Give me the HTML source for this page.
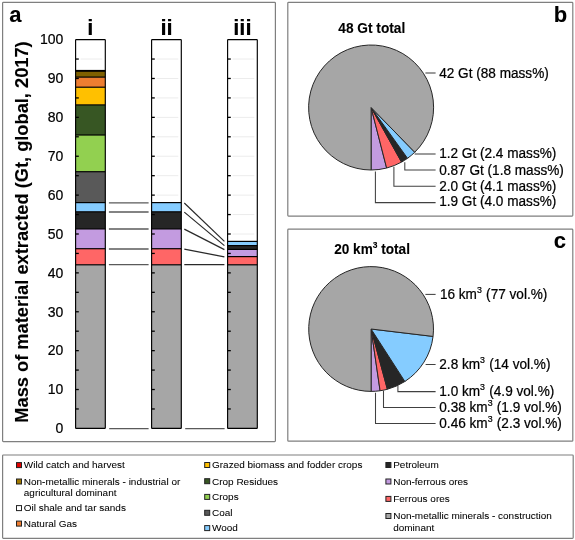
<!DOCTYPE html>
<html><head><meta charset="utf-8"><style>
html,body{margin:0;padding:0;background:#fff;}
svg{display:block;filter:blur(0.35px);font-family:"Liberation Sans",sans-serif;}
text{stroke:#000;stroke-width:0.22px;}
text[font-weight=bold]{stroke-width:0.1px;}
</style></head><body>
<svg width="575" height="540" viewBox="0 0 575 540" font-family="Liberation Sans, sans-serif" fill="#000">
<rect width="575" height="540" fill="#fff"/>
<rect x="2.6" y="2.4" width="272.79999999999995" height="439.20000000000005" rx="0.8" fill="none" stroke="#7f7f7f" stroke-width="1.2"/>
<rect x="287.8" y="2.4" width="284.99999999999994" height="213.7" rx="0.8" fill="none" stroke="#7f7f7f" stroke-width="1.2"/>
<rect x="287.8" y="229.1" width="284.99999999999994" height="212.1" rx="0.8" fill="none" stroke="#7f7f7f" stroke-width="1.2"/>
<rect x="2.6" y="455.0" width="570.6" height="83.29999999999995" rx="0.8" fill="none" stroke="#7f7f7f" stroke-width="1.2"/>
<text x="9.2" y="21.8" font-weight="bold" font-size="22">a</text>
<text transform="translate(28,232.0) rotate(-90)" text-anchor="middle" font-weight="bold" font-size="18.25">Mass of material extracted (Gt, global, 2017)</text>
<text transform="translate(63.4,433.15) scale(1,1.05)" text-anchor="end" font-size="14">0</text>
<text transform="translate(63.4,394.27) scale(1,1.05)" text-anchor="end" font-size="14">10</text>
<text transform="translate(63.4,355.39) scale(1,1.05)" text-anchor="end" font-size="14">20</text>
<text transform="translate(63.4,316.51) scale(1,1.05)" text-anchor="end" font-size="14">30</text>
<text transform="translate(63.4,277.63) scale(1,1.05)" text-anchor="end" font-size="14">40</text>
<text transform="translate(63.4,238.75) scale(1,1.05)" text-anchor="end" font-size="14">50</text>
<text transform="translate(63.4,199.87) scale(1,1.05)" text-anchor="end" font-size="14">60</text>
<text transform="translate(63.4,160.99) scale(1,1.05)" text-anchor="end" font-size="14">70</text>
<text transform="translate(63.4,122.11) scale(1,1.05)" text-anchor="end" font-size="14">80</text>
<text transform="translate(63.4,83.23) scale(1,1.05)" text-anchor="end" font-size="14">90</text>
<text transform="translate(63.4,44.35) scale(1,1.05)" text-anchor="end" font-size="14">100</text>
<text x="90.4" y="34.9" text-anchor="middle" font-weight="bold" font-size="22">i</text>
<text x="166.5" y="34.9" text-anchor="middle" font-weight="bold" font-size="22">ii</text>
<text x="242.4" y="34.9" text-anchor="middle" font-weight="bold" font-size="22">iii</text>
<rect x="75.6" y="264.80" width="29.7" height="163.50" fill="#a6a6a6"/>
<rect x="75.6" y="248.70" width="29.7" height="16.10" fill="#ff6666"/>
<rect x="75.6" y="228.90" width="29.7" height="19.80" fill="#c39be0"/>
<rect x="75.6" y="211.80" width="29.7" height="17.10" fill="#262626"/>
<rect x="75.6" y="202.60" width="29.7" height="9.20" fill="#85ccff"/>
<rect x="75.6" y="171.70" width="29.7" height="30.90" fill="#595959"/>
<rect x="75.6" y="135.00" width="29.7" height="36.70" fill="#92d050"/>
<rect x="75.6" y="104.90" width="29.7" height="30.10" fill="#375623"/>
<rect x="75.6" y="87.20" width="29.7" height="17.70" fill="#ffc000"/>
<rect x="75.6" y="77.10" width="29.7" height="10.10" fill="#ed7d31"/>
<rect x="75.6" y="70.80" width="29.7" height="6.30" fill="#7f6000"/>
<rect x="75.6" y="39.60" width="29.7" height="31.20" fill="#ffffff"/>
<line x1="80.6" x2="102.3" y1="59.04" y2="59.04" stroke="#ececec" stroke-width="1"/>
<line x1="75.6" x2="78.8" y1="408.96" y2="408.96" stroke="#000" stroke-width="1.3"/>
<line x1="75.6" x2="78.8" y1="389.52" y2="389.52" stroke="#000" stroke-width="1.3"/>
<line x1="75.6" x2="78.8" y1="370.08" y2="370.08" stroke="#000" stroke-width="1.3"/>
<line x1="75.6" x2="78.8" y1="350.64" y2="350.64" stroke="#000" stroke-width="1.3"/>
<line x1="75.6" x2="78.8" y1="331.20" y2="331.20" stroke="#000" stroke-width="1.3"/>
<line x1="75.6" x2="78.8" y1="311.76" y2="311.76" stroke="#000" stroke-width="1.3"/>
<line x1="75.6" x2="78.8" y1="292.32" y2="292.32" stroke="#000" stroke-width="1.3"/>
<line x1="75.6" x2="78.8" y1="272.88" y2="272.88" stroke="#000" stroke-width="1.3"/>
<line x1="75.6" x2="78.8" y1="253.44" y2="253.44" stroke="#000" stroke-width="1.3"/>
<line x1="75.6" x2="78.8" y1="234.00" y2="234.00" stroke="#000" stroke-width="1.3"/>
<line x1="75.6" x2="78.8" y1="214.56" y2="214.56" stroke="#000" stroke-width="1.3"/>
<line x1="75.6" x2="78.8" y1="195.12" y2="195.12" stroke="#000" stroke-width="1.3"/>
<line x1="75.6" x2="78.8" y1="175.68" y2="175.68" stroke="#000" stroke-width="1.3"/>
<line x1="75.6" x2="78.8" y1="156.24" y2="156.24" stroke="#000" stroke-width="1.3"/>
<line x1="75.6" x2="78.8" y1="136.80" y2="136.80" stroke="#000" stroke-width="1.3"/>
<line x1="75.6" x2="78.8" y1="117.36" y2="117.36" stroke="#000" stroke-width="1.3"/>
<line x1="75.6" x2="78.8" y1="97.92" y2="97.92" stroke="#000" stroke-width="1.3"/>
<line x1="75.6" x2="78.8" y1="78.48" y2="78.48" stroke="#000" stroke-width="1.3"/>
<line x1="75.6" x2="78.8" y1="59.04" y2="59.04" stroke="#000" stroke-width="1.3"/>
<line x1="75.6" x2="105.3" y1="264.80" y2="264.80" stroke="#000" stroke-width="1.2"/>
<line x1="75.6" x2="105.3" y1="248.70" y2="248.70" stroke="#000" stroke-width="1.2"/>
<line x1="75.6" x2="105.3" y1="228.90" y2="228.90" stroke="#000" stroke-width="1.2"/>
<line x1="75.6" x2="105.3" y1="211.80" y2="211.80" stroke="#000" stroke-width="1.2"/>
<line x1="75.6" x2="105.3" y1="202.60" y2="202.60" stroke="#000" stroke-width="1.2"/>
<line x1="75.6" x2="105.3" y1="171.70" y2="171.70" stroke="#000" stroke-width="1.2"/>
<line x1="75.6" x2="105.3" y1="135.00" y2="135.00" stroke="#000" stroke-width="1.2"/>
<line x1="75.6" x2="105.3" y1="104.90" y2="104.90" stroke="#000" stroke-width="1.2"/>
<line x1="75.6" x2="105.3" y1="87.20" y2="87.20" stroke="#000" stroke-width="1.2"/>
<line x1="75.6" x2="105.3" y1="77.10" y2="77.10" stroke="#000" stroke-width="1.2"/>
<line x1="75.6" x2="105.3" y1="70.80" y2="70.80" stroke="#000" stroke-width="1.2"/>
<rect x="75.6" y="39.6" width="29.7" height="388.7" fill="none" stroke="#000" stroke-width="1.15" rx="0.6"/>
<line x1="75.6" x2="105.3" y1="70.8" y2="70.8" stroke="#000" stroke-width="1.8"/>
<rect x="151.6" y="264.80" width="29.7" height="163.50" fill="#a6a6a6"/>
<rect x="151.6" y="248.70" width="29.7" height="16.10" fill="#ff6666"/>
<rect x="151.6" y="228.90" width="29.7" height="19.80" fill="#c39be0"/>
<rect x="151.6" y="211.80" width="29.7" height="17.10" fill="#262626"/>
<rect x="151.6" y="202.60" width="29.7" height="9.20" fill="#85ccff"/>
<rect x="151.6" y="39.60" width="29.7" height="163.00" fill="#ffffff"/>
<line x1="156.6" x2="178.29999999999998" y1="195.12" y2="195.12" stroke="#ececec" stroke-width="1"/>
<line x1="156.6" x2="178.29999999999998" y1="175.68" y2="175.68" stroke="#ececec" stroke-width="1"/>
<line x1="156.6" x2="178.29999999999998" y1="156.24" y2="156.24" stroke="#ececec" stroke-width="1"/>
<line x1="156.6" x2="178.29999999999998" y1="136.80" y2="136.80" stroke="#ececec" stroke-width="1"/>
<line x1="156.6" x2="178.29999999999998" y1="117.36" y2="117.36" stroke="#ececec" stroke-width="1"/>
<line x1="156.6" x2="178.29999999999998" y1="97.92" y2="97.92" stroke="#ececec" stroke-width="1"/>
<line x1="156.6" x2="178.29999999999998" y1="78.48" y2="78.48" stroke="#ececec" stroke-width="1"/>
<line x1="156.6" x2="178.29999999999998" y1="59.04" y2="59.04" stroke="#ececec" stroke-width="1"/>
<line x1="151.6" x2="154.79999999999998" y1="408.96" y2="408.96" stroke="#000" stroke-width="1.3"/>
<line x1="151.6" x2="154.79999999999998" y1="389.52" y2="389.52" stroke="#000" stroke-width="1.3"/>
<line x1="151.6" x2="154.79999999999998" y1="370.08" y2="370.08" stroke="#000" stroke-width="1.3"/>
<line x1="151.6" x2="154.79999999999998" y1="350.64" y2="350.64" stroke="#000" stroke-width="1.3"/>
<line x1="151.6" x2="154.79999999999998" y1="331.20" y2="331.20" stroke="#000" stroke-width="1.3"/>
<line x1="151.6" x2="154.79999999999998" y1="311.76" y2="311.76" stroke="#000" stroke-width="1.3"/>
<line x1="151.6" x2="154.79999999999998" y1="292.32" y2="292.32" stroke="#000" stroke-width="1.3"/>
<line x1="151.6" x2="154.79999999999998" y1="272.88" y2="272.88" stroke="#000" stroke-width="1.3"/>
<line x1="151.6" x2="154.79999999999998" y1="253.44" y2="253.44" stroke="#000" stroke-width="1.3"/>
<line x1="151.6" x2="154.79999999999998" y1="234.00" y2="234.00" stroke="#000" stroke-width="1.3"/>
<line x1="151.6" x2="154.79999999999998" y1="214.56" y2="214.56" stroke="#000" stroke-width="1.3"/>
<line x1="151.6" x2="154.79999999999998" y1="195.12" y2="195.12" stroke="#000" stroke-width="1.3"/>
<line x1="151.6" x2="154.79999999999998" y1="175.68" y2="175.68" stroke="#000" stroke-width="1.3"/>
<line x1="151.6" x2="154.79999999999998" y1="156.24" y2="156.24" stroke="#000" stroke-width="1.3"/>
<line x1="151.6" x2="154.79999999999998" y1="136.80" y2="136.80" stroke="#000" stroke-width="1.3"/>
<line x1="151.6" x2="154.79999999999998" y1="117.36" y2="117.36" stroke="#000" stroke-width="1.3"/>
<line x1="151.6" x2="154.79999999999998" y1="97.92" y2="97.92" stroke="#000" stroke-width="1.3"/>
<line x1="151.6" x2="154.79999999999998" y1="78.48" y2="78.48" stroke="#000" stroke-width="1.3"/>
<line x1="151.6" x2="154.79999999999998" y1="59.04" y2="59.04" stroke="#000" stroke-width="1.3"/>
<line x1="151.6" x2="181.29999999999998" y1="264.80" y2="264.80" stroke="#000" stroke-width="1.2"/>
<line x1="151.6" x2="181.29999999999998" y1="248.70" y2="248.70" stroke="#000" stroke-width="1.2"/>
<line x1="151.6" x2="181.29999999999998" y1="228.90" y2="228.90" stroke="#000" stroke-width="1.2"/>
<line x1="151.6" x2="181.29999999999998" y1="211.80" y2="211.80" stroke="#000" stroke-width="1.2"/>
<line x1="151.6" x2="181.29999999999998" y1="202.60" y2="202.60" stroke="#000" stroke-width="1.2"/>
<rect x="151.6" y="39.6" width="29.7" height="388.7" fill="none" stroke="#000" stroke-width="1.15" rx="0.6"/>
<rect x="227.6" y="264.80" width="29.7" height="163.50" fill="#a6a6a6"/>
<rect x="227.6" y="256.60" width="29.7" height="8.20" fill="#ff6666"/>
<rect x="227.6" y="249.40" width="29.7" height="7.20" fill="#c39be0"/>
<rect x="227.6" y="245.60" width="29.7" height="3.80" fill="#262626"/>
<rect x="227.6" y="241.40" width="29.7" height="4.20" fill="#85ccff"/>
<rect x="227.6" y="39.60" width="29.7" height="201.80" fill="#ffffff"/>
<line x1="232.6" x2="254.3" y1="234.00" y2="234.00" stroke="#ececec" stroke-width="1"/>
<line x1="232.6" x2="254.3" y1="214.56" y2="214.56" stroke="#ececec" stroke-width="1"/>
<line x1="232.6" x2="254.3" y1="195.12" y2="195.12" stroke="#ececec" stroke-width="1"/>
<line x1="232.6" x2="254.3" y1="175.68" y2="175.68" stroke="#ececec" stroke-width="1"/>
<line x1="232.6" x2="254.3" y1="156.24" y2="156.24" stroke="#ececec" stroke-width="1"/>
<line x1="232.6" x2="254.3" y1="136.80" y2="136.80" stroke="#ececec" stroke-width="1"/>
<line x1="232.6" x2="254.3" y1="117.36" y2="117.36" stroke="#ececec" stroke-width="1"/>
<line x1="232.6" x2="254.3" y1="97.92" y2="97.92" stroke="#ececec" stroke-width="1"/>
<line x1="232.6" x2="254.3" y1="78.48" y2="78.48" stroke="#ececec" stroke-width="1"/>
<line x1="232.6" x2="254.3" y1="59.04" y2="59.04" stroke="#ececec" stroke-width="1"/>
<line x1="227.6" x2="230.79999999999998" y1="408.96" y2="408.96" stroke="#000" stroke-width="1.3"/>
<line x1="227.6" x2="230.79999999999998" y1="389.52" y2="389.52" stroke="#000" stroke-width="1.3"/>
<line x1="227.6" x2="230.79999999999998" y1="370.08" y2="370.08" stroke="#000" stroke-width="1.3"/>
<line x1="227.6" x2="230.79999999999998" y1="350.64" y2="350.64" stroke="#000" stroke-width="1.3"/>
<line x1="227.6" x2="230.79999999999998" y1="331.20" y2="331.20" stroke="#000" stroke-width="1.3"/>
<line x1="227.6" x2="230.79999999999998" y1="311.76" y2="311.76" stroke="#000" stroke-width="1.3"/>
<line x1="227.6" x2="230.79999999999998" y1="292.32" y2="292.32" stroke="#000" stroke-width="1.3"/>
<line x1="227.6" x2="230.79999999999998" y1="272.88" y2="272.88" stroke="#000" stroke-width="1.3"/>
<line x1="227.6" x2="230.79999999999998" y1="253.44" y2="253.44" stroke="#000" stroke-width="1.3"/>
<line x1="227.6" x2="230.79999999999998" y1="234.00" y2="234.00" stroke="#000" stroke-width="1.3"/>
<line x1="227.6" x2="230.79999999999998" y1="214.56" y2="214.56" stroke="#000" stroke-width="1.3"/>
<line x1="227.6" x2="230.79999999999998" y1="195.12" y2="195.12" stroke="#000" stroke-width="1.3"/>
<line x1="227.6" x2="230.79999999999998" y1="175.68" y2="175.68" stroke="#000" stroke-width="1.3"/>
<line x1="227.6" x2="230.79999999999998" y1="156.24" y2="156.24" stroke="#000" stroke-width="1.3"/>
<line x1="227.6" x2="230.79999999999998" y1="136.80" y2="136.80" stroke="#000" stroke-width="1.3"/>
<line x1="227.6" x2="230.79999999999998" y1="117.36" y2="117.36" stroke="#000" stroke-width="1.3"/>
<line x1="227.6" x2="230.79999999999998" y1="97.92" y2="97.92" stroke="#000" stroke-width="1.3"/>
<line x1="227.6" x2="230.79999999999998" y1="78.48" y2="78.48" stroke="#000" stroke-width="1.3"/>
<line x1="227.6" x2="230.79999999999998" y1="59.04" y2="59.04" stroke="#000" stroke-width="1.3"/>
<line x1="227.6" x2="257.3" y1="264.80" y2="264.80" stroke="#000" stroke-width="1.2"/>
<line x1="227.6" x2="257.3" y1="256.60" y2="256.60" stroke="#000" stroke-width="1.2"/>
<line x1="227.6" x2="257.3" y1="249.40" y2="249.40" stroke="#000" stroke-width="1.2"/>
<line x1="227.6" x2="257.3" y1="245.60" y2="245.60" stroke="#000" stroke-width="1.2"/>
<line x1="227.6" x2="257.3" y1="241.40" y2="241.40" stroke="#000" stroke-width="1.2"/>
<rect x="227.6" y="39.6" width="29.7" height="388.7" fill="none" stroke="#000" stroke-width="1.15" rx="0.6"/>
<line x1="108.9" x2="148.6" y1="202.9" y2="202.9" stroke="#5a5a5a" stroke-width="1.3"/>
<line x1="108.9" x2="148.6" y1="212.0" y2="212.0" stroke="#5a5a5a" stroke-width="1.3"/>
<line x1="108.9" x2="148.6" y1="229.0" y2="229.0" stroke="#5a5a5a" stroke-width="1.3"/>
<line x1="108.9" x2="148.6" y1="249.0" y2="249.0" stroke="#5a5a5a" stroke-width="1.3"/>
<line x1="108.9" x2="148.6" y1="264.6" y2="264.6" stroke="#5a5a5a" stroke-width="1.3"/>
<line x1="184.3" x2="224.4" y1="203.0" y2="241.4" stroke="#2a2a2a" stroke-width="1.2"/>
<line x1="184.3" x2="224.4" y1="212.1" y2="245.6" stroke="#2a2a2a" stroke-width="1.2"/>
<line x1="184.3" x2="224.4" y1="229.1" y2="249.6" stroke="#2a2a2a" stroke-width="1.2"/>
<line x1="184.3" x2="224.4" y1="249.2" y2="256.9" stroke="#2a2a2a" stroke-width="1.2"/>
<line x1="184.3" x2="224.4" y1="264.7" y2="264.7" stroke="#2a2a2a" stroke-width="1.2"/>
<line x1="109.2" x2="148.6" y1="428.7" y2="428.7" stroke="#5a5a5a" stroke-width="1.3"/>
<line x1="185.2" x2="224.6" y1="428.7" y2="428.7" stroke="#5a5a5a" stroke-width="1.3"/>
<path d="M371.1,107.5 L386.64,168.04 A62.5,62.5 0 0 1 371.10,170.00 Z" fill="#c39be0" stroke="#262626" stroke-width="1.0" stroke-linejoin="round"/>
<path d="M371.1,107.5 L401.55,162.08 A62.5,62.5 0 0 1 386.64,168.04 Z" fill="#ff6666" stroke="#262626" stroke-width="1.0" stroke-linejoin="round"/>
<path d="M371.1,107.5 L407.52,158.29 A62.5,62.5 0 0 1 401.55,162.08 Z" fill="#262626" stroke="#262626" stroke-width="1.0" stroke-linejoin="round"/>
<path d="M371.1,107.5 L414.74,152.25 A62.5,62.5 0 0 1 407.52,158.29 Z" fill="#85ccff" stroke="#262626" stroke-width="1.0" stroke-linejoin="round"/>
<path d="M371.1,107.5 L371.10,170.00 A62.5,62.5 0 1 1 414.74,152.25 Z" fill="#a6a6a6" stroke="#262626" stroke-width="1.0" stroke-linejoin="round"/>
<path d="M371.1,329.0 L380.09,390.75 A62.4,62.4 0 0 1 371.10,391.40 Z" fill="#c39be0" stroke="#262626" stroke-width="1.0" stroke-linejoin="round"/>
<path d="M371.1,329.0 L387.38,389.24 A62.4,62.4 0 0 1 380.09,390.75 Z" fill="#ff6666" stroke="#262626" stroke-width="1.0" stroke-linejoin="round"/>
<path d="M371.1,329.0 L404.87,381.47 A62.4,62.4 0 0 1 387.38,389.24 Z" fill="#262626" stroke="#262626" stroke-width="1.0" stroke-linejoin="round"/>
<path d="M371.1,329.0 L433.06,336.43 A62.4,62.4 0 0 1 404.87,381.47 Z" fill="#85ccff" stroke="#262626" stroke-width="1.0" stroke-linejoin="round"/>
<path d="M371.1,329.0 L371.10,391.40 A62.4,62.4 0 1 1 433.06,336.43 Z" fill="#a6a6a6" stroke="#262626" stroke-width="1.0" stroke-linejoin="round"/>
<polyline points="425.4,73.0 435.6,73.0" fill="none" stroke="#404040" stroke-width="1.05"/>
<polyline points="414.6,154.0 435.6,154.0" fill="none" stroke="#404040" stroke-width="1.05"/>
<polyline points="404.8,162.3 404.8,170.0 435.6,170.0" fill="none" stroke="#404040" stroke-width="1.05"/>
<polyline points="393.9,166.8 393.9,186.3 435.6,186.3" fill="none" stroke="#404040" stroke-width="1.05"/>
<polyline points="375.4,171.5 375.4,202.6 435.6,202.6" fill="none" stroke="#404040" stroke-width="1.05"/>
<polyline points="425.4,294.4 435.6,294.4" fill="none" stroke="#404040" stroke-width="1.05"/>
<polyline points="425.6,364.5 435.6,364.5" fill="none" stroke="#404040" stroke-width="1.05"/>
<polyline points="397.9,385.6 397.9,391.6 435.6,391.6" fill="none" stroke="#404040" stroke-width="1.05"/>
<polyline points="383.5,390.5 383.5,407.5 435.6,407.5" fill="none" stroke="#404040" stroke-width="1.05"/>
<polyline points="375.5,392.8 375.5,423.5 435.6,423.5" fill="none" stroke="#404040" stroke-width="1.05"/>
<text x="553.7" y="21.7" font-weight="bold" font-size="22">b</text>
<text transform="translate(338.3,32.9) scale(1,1.07)" font-weight="bold" font-size="13.7">48 Gt total</text>
<text transform="translate(439.20000000000005,77.6) scale(1,1.07)" font-size="13.6">42 Gt (88 mass%)</text>
<text transform="translate(439.20000000000005,158.3) scale(1,1.07)" font-size="13.6">1.2 Gt (2.4 mass%)</text>
<text transform="translate(439.20000000000005,174.6) scale(1,1.07)" font-size="13.6">0.87 Gt (1.8 mass%)</text>
<text transform="translate(439.20000000000005,190.8) scale(1,1.07)" font-size="13.6">2.0 Gt (4.1 mass%)</text>
<text transform="translate(439.20000000000005,206.1) scale(1,1.07)" font-size="13.6">1.9 Gt (4.0 mass%)</text>
<text x="553.8" y="248.3" font-weight="bold" font-size="22">c</text>
<text transform="translate(334.2,253.6) scale(1,1.07)" font-weight="bold" font-size="13.6">20 km<tspan font-size="8.5" dy="-5.5">3</tspan><tspan dy="5.5"> total</tspan></text>
<text transform="translate(439.9,298.8) scale(1,1.07)" font-size="13.6">16 km<tspan font-size="8.8" dy="-5.5">3</tspan><tspan dy="5.5" dx="0.5"> (77 vol.%)</tspan></text>
<text transform="translate(439.3,369.2) scale(1,1.07)" font-size="13.6">2.8 km<tspan font-size="8.8" dy="-5.5">3</tspan><tspan dy="5.5" dx="0.5"> (14 vol.%)</tspan></text>
<text transform="translate(439.3,395.8) scale(1,1.07)" font-size="13.6">1.0 km<tspan font-size="8.8" dy="-5.5">3</tspan><tspan dy="5.5" dx="0.5"> (4.9 vol.%)</tspan></text>
<text transform="translate(439.3,412.0) scale(1,1.07)" font-size="13.6">0.38 km<tspan font-size="8.8" dy="-5.5">3</tspan><tspan dy="5.5" dx="0.5"> (1.9 vol.%)</tspan></text>
<text transform="translate(439.3,428.0) scale(1,1.07)" font-size="13.6">0.46 km<tspan font-size="8.8" dy="-5.5">3</tspan><tspan dy="5.5" dx="0.5"> (2.3 vol.%)</tspan></text>
<rect x="16.5" y="462.6" width="5" height="5" fill="#e00000" stroke="#222" stroke-width="1"/>
<text transform="translate(23.8,468.40) scale(1,0.93)" font-size="10" style="stroke-width:0.06px">Wild catch and harvest</text>
<rect x="16.5" y="479.0" width="5" height="5" fill="#a07800" stroke="#222" stroke-width="1"/>
<text transform="translate(23.8,484.80) scale(1,0.93)" font-size="10" style="stroke-width:0.06px">Non-metallic minerals - industrial or</text>
<text transform="translate(23.8,496.20) scale(1,0.93)" font-size="10" style="stroke-width:0.06px">agricultural dominant</text>
<rect x="16.5" y="505.6" width="5" height="5" fill="#ffffff" stroke="#222" stroke-width="1"/>
<text transform="translate(23.8,511.40) scale(1,0.93)" font-size="10" style="stroke-width:0.06px">Oil shale and tar sands</text>
<rect x="16.5" y="521.1" width="5" height="5" fill="#ed7d31" stroke="#222" stroke-width="1"/>
<text transform="translate(23.8,526.90) scale(1,0.93)" font-size="10" style="stroke-width:0.06px">Natural Gas</text>
<rect x="204.7" y="462.5" width="5" height="5" fill="#ffc000" stroke="#222" stroke-width="1"/>
<text transform="translate(212.0,468.30) scale(1,0.93)" font-size="10" style="stroke-width:0.06px">Grazed biomass and fodder crops</text>
<rect x="204.7" y="478.70000000000005" width="5" height="5" fill="#375623" stroke="#222" stroke-width="1"/>
<text transform="translate(212.0,484.50) scale(1,0.93)" font-size="10" style="stroke-width:0.06px">Crop Residues</text>
<rect x="204.7" y="494.40000000000003" width="5" height="5" fill="#92d050" stroke="#222" stroke-width="1"/>
<text transform="translate(212.0,500.20) scale(1,0.93)" font-size="10" style="stroke-width:0.06px">Crops</text>
<rect x="204.7" y="510.30000000000007" width="5" height="5" fill="#595959" stroke="#222" stroke-width="1"/>
<text transform="translate(212.0,516.10) scale(1,0.93)" font-size="10" style="stroke-width:0.06px">Coal</text>
<rect x="204.7" y="525.6" width="5" height="5" fill="#85ccff" stroke="#222" stroke-width="1"/>
<text transform="translate(212.0,531.40) scale(1,0.93)" font-size="10" style="stroke-width:0.06px">Wood</text>
<rect x="385.9" y="462.5" width="5" height="5" fill="#262626" stroke="#222" stroke-width="1"/>
<text transform="translate(393.2,468.30) scale(1,0.93)" font-size="10" style="stroke-width:0.06px">Petroleum</text>
<rect x="385.9" y="479.0" width="5" height="5" fill="#c39be0" stroke="#222" stroke-width="1"/>
<text transform="translate(393.2,484.80) scale(1,0.93)" font-size="10" style="stroke-width:0.06px">Non-ferrous ores</text>
<rect x="385.9" y="496.40000000000003" width="5" height="5" fill="#ff6666" stroke="#222" stroke-width="1"/>
<text transform="translate(393.2,502.20) scale(1,0.93)" font-size="10" style="stroke-width:0.06px">Ferrous ores</text>
<rect x="385.9" y="513.5" width="5" height="5" fill="#a6a6a6" stroke="#222" stroke-width="1"/>
<text transform="translate(393.2,519.30) scale(1,0.93)" font-size="10" style="stroke-width:0.06px">Non-metallic minerals - construction</text>
<text transform="translate(393.2,530.70) scale(1,0.93)" font-size="10" style="stroke-width:0.06px">dominant</text>
</svg>
</body></html>
